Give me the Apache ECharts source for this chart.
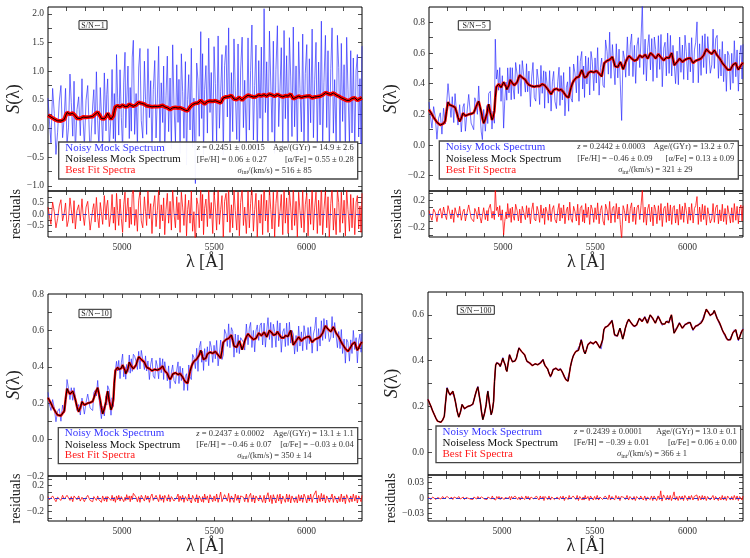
<!DOCTYPE html>
<html>
<head>
<meta charset="utf-8">
<script src="https://cdn.jsdelivr.net/npm/echarts@6/dist/echarts.min.js"></script>
<style>
html, body { margin: 0; padding: 0; background: #fff; }
#chart { width: 750px; height: 558px; }
</style>
</head>
<body>
<div id="chart"></div>
<script>
// wavelength grid (Angstrom) and noiseless model spectrum, read from the S/N~100 panel
const wave = [4600,4616,4634,4652,4670,4688,4703,4719,4734,4748,
  4766,4784,4797,4815,4842,4855,4869,4883,4896,4914,
  4923,4941,4954,4965,4977,4990,5004,5017,5026,5040,
  5051,5062,5077,5091,5105,5122,5134,5149,5163,5178,
  5192,5206,5221,5232,5246,5261,5275,5290,5304,5315,
  5329,5344,5356,5369,5383,5398,5412,5427,5437,5448,
  5463,5477,5492,5506,5521,5535,5549,5564,5578,5593,
  5607,5622,5636,5651,5665,5683,5697,5712,5726,5741,
  5755,5770,5784,5799,5813,5827,5842,5856,5871,5885,
  5900,5914,5928,5943,5957,5972,5986,6001,6015,6030,
  6044,6058,6073,6087,6102,6116,6131,6145,6160,6174,
  6188,6203,6217,6232,6246,6261,6275,6289,6300];
const model = [0.23,0.20,0.164,0.135,0.131,0.157,0.28,0.25,0.266,0.22,
  0.153,0.208,0.19,0.20,0.21,0.25,0.285,0.215,0.142,0.208,
  0.266,0.164,0.222,0.38,0.397,0.375,0.41,0.38,0.353,0.425,
  0.404,0.389,0.41,0.455,0.44,0.425,0.397,0.39,0.378,0.386,
  0.382,0.389,0.404,0.378,0.363,0.331,0.36,0.367,0.357,0.363,
  0.343,0.317,0.31,0.375,0.418,0.44,0.445,0.49,0.455,0.43,
  0.47,0.48,0.474,0.484,0.465,0.447,0.535,0.55,0.556,0.575,
  0.513,0.508,0.542,0.494,0.542,0.581,0.564,0.55,0.556,0.585,
  0.571,0.59,0.564,0.60,0.585,0.564,0.593,0.571,0.552,0.571,
  0.567,0.60,0.52,0.542,0.564,0.542,0.556,0.564,0.567,0.535,
  0.55,0.556,0.564,0.585,0.625,0.607,0.593,0.619,0.585,0.564,
  0.535,0.513,0.491,0.491,0.523,0.535,0.491,0.52,0.537];
// in-between samples of the same spectrum
const waveMid = [4608,4625,4643,4661,4679,4695,4711,4726,4741,4757,
  4775,4790,4806,4828,4848,4862,4876,4889,4905,4918,
  4932,4947,4959,4971,4983,4997,5010,5021,5033,5045,
  5056,5069,5084,5098,5113,5128,5141,5156,5170,5185,
  5199,5213,5226,5239,5253,5268,5282,5297,5309,5322,
  5336,5350,5362,5376,5390,5405,5419,5432,5442,5455,
  5470,5484,5499,5513,5528,5542,5556,5571,5585,5600,
  5614,5629,5643,5658,5674,5690,5704,5719,5733,5748,
  5762,5777,5791,5806,5820,5834,5849,5863,5878,5892,
  5907,5921,5935,5950,5964,5979,5993,6008,6022,6037,
  6051,6065,6080,6094,6109,6123,6138,6152,6167,6181,
  6195,6210,6224,6239,6253,6268,6282,6295];
const modelMid = [0.215,0.18,0.148,0.13,0.14,0.22,0.262,0.255,0.245,0.18,
  0.175,0.2,0.195,0.203,0.228,0.27,0.25,0.175,0.17,0.24,
  0.21,0.18,0.31,0.39,0.385,0.392,0.395,0.362,0.39,0.415,
  0.395,0.398,0.435,0.448,0.432,0.41,0.392,0.384,0.38,0.385,
  0.384,0.397,0.39,0.37,0.345,0.342,0.364,0.362,0.358,0.354,
  0.33,0.312,0.34,0.4,0.43,0.442,0.465,0.475,0.44,0.448,
  0.476,0.477,0.478,0.475,0.455,0.49,0.545,0.552,0.565,0.545,
  0.51,0.525,0.52,0.515,0.565,0.573,0.556,0.552,0.57,0.578,
  0.58,0.578,0.58,0.594,0.574,0.578,0.583,0.56,0.56,0.57,
  0.585,0.56,0.53,0.553,0.554,0.548,0.56,0.566,0.55,0.54,
  0.553,0.56,0.573,0.605,0.617,0.598,0.606,0.603,0.575,0.55,
  0.523,0.5,0.485,0.508,0.53,0.51,0.503,0.53];

// residuals (noisy - fit) per S/N panel, in merged wavelength order
const residSN1 = [0.3,-0.1,-0.45,0.52,0.1,-0.6,-0.2,0.35,0.62,-0.3,
  0.05,0.48,-0.55,-0.25,0.7,0.2,-0.4,0.58,-0.65,0.15,
  0.4,-0.3,0.66,-0.05,-0.5,0.3,0.55,-0.7,0.2,0.45,
  -0.35,0.72,-0.15,-0.6,0.5,0.1,-0.45,0.8,-0.25,0.35,
  0.6,-0.55,0.05,0.85,-0.4,0.3,-0.7,0.9,0.15,-0.5,
  0.65,-0.2,-0.8,0.4,0.95,-0.35,0.1,0.7,-0.6,0.3,
  -0.45,0.85,1.15,-0.5,0.2,-0.75,0.6,0.95,-0.3,-0.6,
  0.75,0.1,-0.5,1.0,-0.2,0.45,-0.85,0.3,0.8,-0.55,
  0.15,1.05,-0.65,0.4,-0.3,0.7,-0.9,0.2,0.9,-0.4,
  0.55,-0.7,1.1,0.05,-0.6,0.75,-0.25,0.5,-0.8,0.95,
  0.3,-0.5,0.85,-0.95,0.2,0.6,-0.4,1.0,-0.75,0.1,
  -1.4,0.7,0.4,-0.6,1.2,-0.3,0.85,-0.9,0.25,0.65,
  -0.55,1.1,-0.2,0.5,-0.85,0.95,0.3,-0.7,1.15,-0.45,
  0.2,0.8,-1.0,0.55,0.9,-0.35,1.2,-0.8,0.4,-0.6,
  1.05,0.15,-0.7,0.95,-0.95,0.5,1.1,-0.5,0.3,-0.85,
  1.0,-0.6,0.45,1.25,-0.75,0.2,0.9,-1.0,0.6,-0.4,
  0.85,-0.9,1.5,-0.3,0.6,-0.8,1.1,0.2,-0.65,0.95,
  -1.0,0.45,1.2,-0.55,0.1,0.85,-0.9,1.15,-0.4,0.7,
  -0.85,1.0,0.3,-0.7,1.25,-0.5,0.55,-1.0,0.95,0.15,
  -0.6,1.1,-0.8,0.4,0.9,-0.95,0.65,-0.45,1.2,-0.7,
  0.3,0.95,-0.85,0.6,-0.5,1.3,-0.9,0.2,1.0,-0.6,
  0.75,-1.0,0.45,1.15,-0.7,0.25,-0.9,1.05,0.5,-0.8,
  0.95,-0.4,0.6,-0.95,1.1,0.2,-0.75,0.85,-0.6,0.7,
  -0.9,0.5,0.8,-0.65,0.35,-0.8,0.9];
const residSN5 = [0.05,-0.03,-0.09,0.07,0.02,-0.11,0.04,0.08,-0.06,0.1,
  -0.02,-0.08,0.12,0.03,-0.07,0.06,-0.12,0.09,0.01,-0.05,
  0.11,-0.09,0.04,0.07,-0.1,0.02,0.13,-0.06,-0.11,0.08,
  0.03,-0.07,0.1,-0.04,-0.13,-0.14,0.09,-0.08,0.05,-0.1,
  0.07,0.14,-0.06,0.04,-0.08,0.38,0.05,0.1,-0.04,0.12,
  -0.09,0.06,-0.3,-0.11,0.03,-0.07,0.15,-0.05,0.08,-0.12,
  0.1,-0.03,-0.09,0.14,0.05,-0.1,0.07,-0.13,0.11,0.02,
  -0.08,0.12,-0.05,0.09,-0.14,0.06,0.16,-0.07,-0.1,0.11,
  0.04,-0.12,0.13,-0.06,0.08,-0.15,0.1,0.03,-0.09,0.14,
  -0.11,0.07,0.12,-0.08,-0.13,0.05,0.15,-0.1,0.09,-0.06,
  0.13,-0.14,0.06,0.1,-0.09,0.17,-0.07,-0.12,0.11,0.04,
  -0.1,0.14,-0.16,0.08,0.12,-0.11,0.06,-0.13,0.15,-0.05,
  0.1,-0.15,0.13,0.07,-0.12,0.09,-0.08,0.16,-0.14,0.05,
  0.12,-0.1,-0.16,0.14,0.06,-0.09,0.18,-0.13,0.08,0.11,
  -0.12,0.15,-0.07,0.1,-0.15,-0.36,0.12,0.05,-0.1,0.14,
  -0.13,0.08,0.16,-0.11,0.1,-0.15,0.09,0.13,-0.08,0.12,
  0.35,-0.12,0.1,-0.16,0.07,0.14,-0.11,0.1,-0.17,0.13,
  0.06,-0.14,0.12,-0.09,0.15,-0.18,0.08,0.11,-0.12,0.16,
  -0.1,0.13,-0.15,0.09,0.12,-0.13,0.07,-0.16,0.14,-0.08,
  0.11,-0.12,0.16,0.05,-0.14,0.1,-0.09,0.15,-0.13,0.08,
  0.12,0.25,-0.15,0.1,-0.11,0.14,-0.08,0.12,-0.16,0.09,
  0.11,-0.13,-0.07,0.15,-0.12,0.09,0.13,-0.14,0.06,-0.1,
  0.14,-0.11,0.08,-0.15,0.12,0.1,-0.13,0.09,-0.12,0.15,
  -0.09,0.11,-0.14,0.08,0.13,-0.1,0.12];
const residSN10 = [0.03,-0.02,-0.04,0.04,0.01,-0.05,0.02,0.04,-0.03,0.05,
  -0.01,-0.04,0.05,0.02,-0.03,0.03,-0.05,0.04,0.01,-0.02,
  0.04,-0.04,0.02,0.03,-0.05,0.01,0.05,-0.03,-0.05,0.03,
  0.02,-0.03,0.04,-0.02,-0.05,-0.06,0.04,-0.04,0.03,-0.05,
  0.03,0.06,-0.03,0.05,-0.04,0.02,-0.06,0.04,-0.02,0.05,
  -0.04,0.03,0.06,-0.05,0.02,-0.03,0.06,-0.02,0.04,-0.05,
  0.04,-0.02,0.08,0.06,0.02,-0.05,0.03,-0.06,0.05,0.01,
  -0.04,0.05,-0.02,0.04,-0.06,0.03,0.07,-0.03,-0.05,0.05,
  0.02,-0.05,0.06,-0.03,0.04,-0.06,0.05,0.01,-0.04,0.06,
  -0.05,0.03,0.05,-0.04,-0.06,0.02,0.07,-0.05,0.04,-0.03,
  0.05,-0.06,0.03,0.05,-0.04,0.07,-0.03,-0.07,0.05,0.02,
  -0.05,0.06,-0.07,0.04,0.05,-0.05,0.03,-0.06,0.07,-0.02,
  0.04,-0.07,0.06,0.03,-0.05,0.04,-0.04,0.07,-0.06,0.02,
  0.1,-0.05,-0.07,0.06,0.03,-0.04,0.08,-0.06,0.04,0.05,
  -0.06,0.07,-0.03,0.05,-0.07,0.04,0.06,0.02,-0.05,0.07,
  -0.06,0.04,0.08,-0.05,0.05,-0.07,0.04,0.06,-0.04,0.05,
  0.07,-0.06,0.05,-0.07,0.03,0.09,-0.05,0.05,-0.08,0.06,
  0.03,-0.07,0.06,-0.04,0.07,-0.08,0.04,0.05,-0.06,0.07,
  -0.05,0.06,-0.07,0.04,0.06,-0.06,0.03,-0.07,0.06,-0.04,
  0.05,-0.06,0.07,0.02,-0.07,0.05,-0.04,0.07,-0.06,0.04,
  0.06,0.12,-0.07,0.05,-0.05,0.08,-0.04,0.06,-0.07,0.04,
  0.05,-0.06,-0.03,0.07,-0.06,0.04,0.06,-0.07,0.03,-0.05,
  0.07,-0.05,0.04,-0.08,0.06,0.05,-0.06,0.04,-0.05,0.07,
  -0.04,0.05,-0.07,0.04,0.06,-0.05,0.05];
const residSN100 = [0.002,-0.001,-0.003,0.002,0.001,-0.003,0.001,0.002,-0.002,0.003,
  -0.001,-0.002,0.003,0.001,-0.002,0.002,-0.003,0.002,0.001,-0.001,
  0.003,-0.002,0.001,0.002,-0.003,0.001,0.003,-0.002,-0.003,0.002,
  0.001,-0.002,0.003,-0.001,-0.003,0.002,0.003,-0.002,0.001,-0.003,
  0.002,0.003,-0.002,0.004,-0.002,0.001,-0.004,0.003,-0.001,0.003,
  -0.003,0.002,0.004,-0.003,0.001,-0.002,0.004,-0.001,0.003,-0.004,
  0.003,-0.001,-0.003,0.004,0.002,-0.003,0.002,-0.004,0.003,0.001,
  -0.003,0.004,-0.002,0.003,-0.004,0.002,0.005,-0.002,-0.003,0.004,
  0.001,-0.004,0.004,-0.002,0.003,-0.005,0.003,0.001,-0.003,0.004,
  -0.004,0.002,0.004,-0.003,-0.004,0.002,0.005,-0.003,0.003,-0.002,
  0.004,-0.005,0.002,0.003,-0.003,0.005,-0.002,-0.004,0.004,0.001,
  -0.003,0.005,-0.005,0.003,0.004,-0.004,0.002,-0.004,0.005,-0.002,
  0.003,-0.005,0.004,0.002,-0.004,0.003,-0.003,0.005,-0.004,0.002,
  0.004,-0.003,-0.005,0.004,0.002,-0.003,0.006,-0.004,0.003,0.003,
  -0.004,0.005,-0.002,0.003,-0.005,0.003,0.004,0.001,-0.003,0.005,
  -0.004,0.003,0.005,-0.004,0.003,-0.005,0.003,0.004,-0.003,0.004,
  0.005,-0.004,0.004,-0.005,0.002,0.005,-0.003,0.004,-0.005,0.004,
  0.003,-0.005,0.004,-0.003,0.014,-0.006,0.006,0.003,-0.004,0.005,
  -0.004,0.005,-0.005,0.003,0.012,-0.004,0.003,-0.005,0.004,-0.003,
  0.004,-0.005,0.005,0.002,-0.005,0.004,-0.003,0.005,-0.004,0.003,
  0.004,0.006,-0.005,0.004,-0.004,0.005,-0.003,0.004,-0.005,0.003,
  0.004,-0.004,-0.002,0.005,-0.004,0.003,0.004,-0.005,0.002,-0.004,
  0.005,-0.004,0.003,-0.005,0.004,0.003,-0.004,0.003,-0.004,0.005,
  -0.003,0.004,-0.005,0.003,0.004,-0.004,0.004];

const snLabels = ['S/N\u223C1', 'S/N\u223C5', 'S/N\u223C10', 'S/N\u223C100'];
const zFit = ['0.2451 \u00B1 0.0015', '0.2442 \u00B1 0.0003', '0.2437 \u00B1 0.0002', '0.2439 \u00B1 0.0001'];
const ageFit = ['14.9 \u00B1 2.6', '13.2 \u00B1 0.7', '13.1 \u00B1 1.1', '13.0 \u00B1 0.1'];
const fehFit = ['0.06 \u00B1 0.27', '\u22120.46 \u00B1 0.09', '\u22120.46 \u00B1 0.07', '\u22120.39 \u00B1 0.01'];
const afeFit = ['0.55 \u00B1 0.28', '0.13 \u00B1 0.09', '\u22120.03 \u00B1 0.04', '0.06 \u00B1 0.00'];
const sigFit = ['516 \u00B1 85', '321 \u00B1 29', '350 \u00B1 14', '366 \u00B1 1'];

// tick labels
const xTickLabels = [5000, 5500, 6000];
const xTicks = [4700, 4800, 4900, 5000, 5100, 5200, 5300, 5400, 5500, 5600, 5700, 5800, 5900, 6000, 6100, 6200];
const yLabelsMain = [[-1, -0.5, 0, 0.5, 1, 1.5, 2], [-0.2, 0, 0.2, 0.4, 0.6, 0.8], [-0.2, 0, 0.2, 0.4, 0.6, 0.8], [0, 0.2, 0.4, 0.6]];
const yTicksMain = [[-1, -0.75, -0.5, -0.25, 0, 0.25, 0.5, 0.75, 1, 1.25, 1.5, 1.75, 2],
  [-0.2, -0.1, 0, 0.1, 0.2, 0.3, 0.4, 0.5, 0.6, 0.7, 0.8],
  [-0.1, 0, 0.1, 0.2, 0.3, 0.4, 0.5, 0.6, 0.7],
  [0, 0.1, 0.2, 0.3, 0.4, 0.5, 0.6]];
const yLabelsResid = [[-0.5, 0, 0.5], [-0.2, 0, 0.2], [-0.2, 0, 0.2], [-0.03, 0, 0.03]];
const yTicksResid = [[-0.75, -0.5, -0.25, 0, 0.25, 0.5, 0.75], [-0.3, -0.2, -0.1, 0, 0.1, 0.2, 0.3],
  [-0.3, -0.2, -0.1, 0, 0.1, 0.2, 0.3], [-0.04, -0.03, -0.02, -0.01, 0, 0.01, 0.02, 0.03, 0.04]];

const resids = [residSN1, residSN5, residSN10, residSN100];

// layout of the 4 panels (main + residual grid each)
const panels = [
  { main: [48, 7, 314, 184], res: [48, 191, 314, 46], yMain: [-1.09, 2.12], yRes: [-1, 1], dec: [1, 1], fitW: 4,
    box: [58.7, 142, 299, 37], sn: [79, 20.7, 28, 8.6], nameGap: 25, resGap: 23 },
  { main: [429, 7, 314, 184], res: [429, 191, 314, 46], yMain: [-0.3, 0.9], yRes: [-0.33, 0.33], dec: [1, 1], fitW: 2.6,
    box: [439.3, 141, 299, 38], sn: [458.3, 20.7, 31.7, 9.3], nameGap: 29, resGap: 21 },
  { main: [48, 294, 314, 182], res: [48, 476, 314, 45], yMain: [-0.2, 0.8], yRes: [-0.35, 0.35], dec: [1, 1], fitW: 2.4,
    box: [58.3, 427.7, 299.4, 36], sn: [79, 309.3, 32, 8.4], nameGap: 25, resGap: 23 },
  { main: [428, 292, 315, 183], res: [428, 475, 315, 46], yMain: [-0.1, 0.7], yRes: [-0.045, 0.045], dec: [1, 2], fitW: 1.6,
    box: [436, 426, 304.7, 36.7], sn: [457.3, 305.7, 37, 8.6], nameGap: 27, resGap: 21 }
];

const FONT = 'Liberation Serif';
const TICK_COLOR = '#222';

function fmt(v, dec, zeroPlain) {
  if (Math.abs(v) < 1e-9) return zeroPlain ? '0' : (0).toFixed(dec);
  return v.toFixed(dec).replace('-', '\u2212');
}

// merge the two samplings in wavelength order: [lambda, model, residual]
function spectrumRows(k) {
  const rows = [];
  wave.forEach(function (w, i) {
    rows.push([w, model[i]]);
    if (i < waveMid.length) rows.push([waveMid[i], modelMid[i]]);
  });
  rows.forEach(function (r, m) { r.push(resids[k][m]); });
  return rows;
}

const grid = [], xAxis = [], yAxis = [], series = [], graphic = [];

panels.forEach(function (p, k) {
  const rows = spectrumRows(k);
  [p.main, p.res].forEach(function (g, j) {
    const gi = grid.length;
    grid.push({ left: g[0], top: g[1], width: g[2], height: g[3], show: true,
      borderColor: '#000', borderWidth: 1, backgroundColor: 'transparent' });
    const isRes = j === 1;
    const xBase = { gridIndex: gi, type: 'value', min: 4600, max: 6300,
      axisLine: { show: false, onZero: false }, splitLine: { show: false },
      axisTick: { inside: true, length: 4, customValues: xTicks, lineStyle: { color: TICK_COLOR, width: 0.8 } } };
    xAxis.push(Object.assign({}, xBase, { position: 'bottom',
      axisLabel: { show: isRes, customValues: xTickLabels, fontFamily: FONT, fontSize: 9.5, color: '#333', margin: 5,
        formatter: function (v) { return String(v); } },
      name: isRes ? '\u03BB [\u00C5]' : '', nameLocation: 'middle', nameGap: 15,
      nameTextStyle: { fontFamily: FONT, fontSize: 18, color: '#222' } }));
    xAxis.push(Object.assign({}, xBase, { position: 'top', axisLabel: { show: false } }));
    const yr = isRes ? p.yRes : p.yMain;
    const labels = isRes ? yLabelsResid[k] : yLabelsMain[k];
    const ticks = isRes ? yTicksResid[k] : yTicksMain[k];
    const dec = isRes ? p.dec[1] : p.dec[0];
    const zeroPlain = isRes && k > 0;
    const yBase = { gridIndex: gi, type: 'value', min: yr[0], max: yr[1],
      axisLine: { show: false, onZero: false }, splitLine: { show: false },
      axisTick: { inside: true, length: 4, customValues: ticks, lineStyle: { color: TICK_COLOR, width: 0.8 } } };
    yAxis.push(Object.assign({}, yBase, { position: 'left',
      axisLabel: { customValues: labels, fontFamily: FONT, fontSize: 9.5, color: '#333', margin: 4,
        formatter: function (v) { return fmt(v, dec, zeroPlain); } },
      name: isRes ? 'residuals' : '{i|S}(\u03BB)', nameLocation: 'middle', nameRotate: 90,
      nameGap: isRes ? p.resGap : p.nameGap,
      nameTextStyle: isRes ? { fontFamily: FONT, fontSize: 14, color: '#222' } :
        { fontFamily: FONT, fontSize: 18, color: '#222', rich: { i: { fontFamily: FONT, fontSize: 18, fontStyle: 'italic', color: '#222' } } } }));
    yAxis.push(Object.assign({}, yBase, { position: 'right', axisLabel: { show: false } }));

    const xi = gi * 2, yi = gi * 2;
    if (!isRes) {
      series.push({ type: 'line', xAxisIndex: xi, yAxisIndex: yi, showSymbol: false, symbol: 'none', z: 2,
        lineStyle: { color: 'rgba(35,35,255,0.72)', width: 0.9 },
        data: rows.map(function (r) { return [r[0], r[1] + r[2]]; }) });
      series.push({ type: 'line', xAxisIndex: xi, yAxisIndex: yi, showSymbol: false, symbol: 'none', z: 3,
        lineStyle: { color: '#ff0000', width: p.fitW },
        data: rows.map(function (r) { return [r[0], r[1]]; }) });
      series.push({ type: 'line', xAxisIndex: xi, yAxisIndex: yi, showSymbol: false, symbol: 'none', z: 4,
        lineStyle: { color: '#000', width: 1 },
        data: rows.map(function (r) { return [r[0], r[1]]; }) });
    } else {
      series.push({ type: 'line', xAxisIndex: xi, yAxisIndex: yi, showSymbol: false, symbol: 'none', z: 3,
        lineStyle: { color: 'rgba(255,0,0,0.85)', width: 0.9 },
        data: rows.map(function (r) { return [r[0], r[2]]; }),
        markLine: { silent: true, symbol: 'none', label: { show: false },
          lineStyle: { color: '#3333cc', type: [4, 3], width: 1 }, data: [{ yAxis: 0 }] } });
    }
  });

  // legend / fit results box
  const b = p.box;
  const small = { fontFamily: FONT, fontSize: 8.5, fill: '#333' };
  const big = { fontFamily: FONT, fontSize: 11 };
  const itRich = { it: { fontStyle: 'italic', fontFamily: FONT, fontSize: 8.5, fill: '#333' },
    sub: { fontFamily: FONT, fontSize: 6, fill: '#333', padding: [4, 0, 0, 0] } };
  const r1 = b[3] * 0.16, r2 = b[3] * 0.47, r3 = b[3] * 0.77;
  graphic.push({ type: 'group', x: b[0], y: b[1], z: 100, children: [
    { type: 'rect', z: 100, shape: { x: 0, y: 0, width: b[2], height: b[3] },
      style: { fill: 'rgba(255,255,255,0.95)', stroke: '#444', lineWidth: 1.3 } },
    { type: 'text', z: 101, x: 6.5, y: r1, style: Object.assign({ text: 'Noisy Mock Spectrum', fill: '#3838ff', verticalAlign: 'middle' }, big) },
    { type: 'text', z: 101, x: 6.5, y: r2, style: Object.assign({ text: 'Noiseless Mock Spectrum', fill: '#111', verticalAlign: 'middle' }, big) },
    { type: 'text', z: 101, x: 6.5, y: r3, style: Object.assign({ text: 'Best Fit Spectra', fill: '#ff1a1a', verticalAlign: 'middle' }, big) },
    { type: 'text', z: 101, x: 138, y: r1, style: Object.assign({ text: '{it|z} = ' + zFit[k], verticalAlign: 'middle', rich: itRich }, small) },
    { type: 'text', z: 101, x: b[2] - 4, y: r1, style: Object.assign({ text: 'Age/(GYr) = ' + ageFit[k], align: 'right', verticalAlign: 'middle' }, small) },
    { type: 'text', z: 101, x: 138, y: r2, style: Object.assign({ text: '[Fe/H] = ' + fehFit[k], verticalAlign: 'middle' }, small) },
    { type: 'text', z: 101, x: b[2] - 4, y: r2, style: Object.assign({ text: '[\u03B1/Fe] = ' + afeFit[k], align: 'right', verticalAlign: 'middle' }, small) },
    { type: 'text', z: 101, x: 216, y: r3, style: Object.assign({ text: '{it|\u03C3}{sub|int}/(km/s) = ' + sigFit[k], align: 'center', verticalAlign: 'middle', rich: itRich }, small) }
  ] });

  // S/N tag
  const s = p.sn;
  graphic.push({ type: 'group', x: s[0], y: s[1], z: 100, children: [
    { type: 'rect', z: 100, shape: { x: 0, y: 0, width: s[2], height: s[3] }, style: { fill: '#fff', stroke: '#222', lineWidth: 1 } },
    { type: 'text', z: 101, x: s[2] / 2, y: s[3] / 2 + 0.5, style: { text: snLabels[k], align: 'center', verticalAlign: 'middle',
      fontFamily: FONT, fontSize: 8, fill: '#222' } }
  ] });
});

const chart = echarts.init(document.getElementById('chart'));
chart.setOption({
  animation: false,
  backgroundColor: '#fff',
  grid: grid,
  xAxis: xAxis,
  yAxis: yAxis,
  series: series,
  graphic: graphic
});
</script>
</body>
</html>
